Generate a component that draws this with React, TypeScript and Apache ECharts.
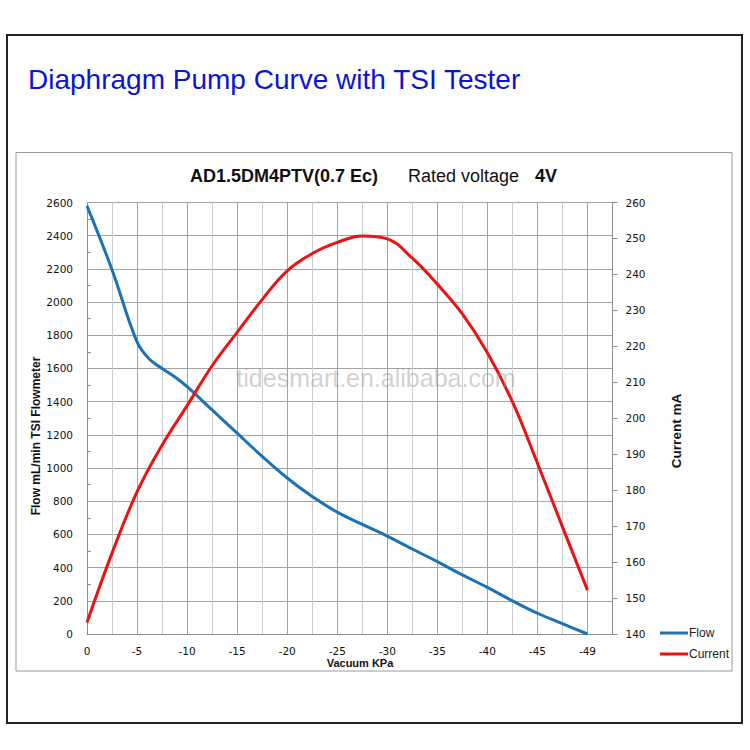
import React, { useEffect, useRef } from "react";
import * as echarts from "echarts";

const vacuumLabels = ["0", "-5", "-10", "-15", "-20", "-25", "-30", "-35", "-40", "-45", "-49"];
// x positions on the chart (one label every 5 units, a grid line every 2.5)
const flowX = [0, 2.5, 5, 6.25, 7.5, 8.75, 10, 12.5, 15, 17.5, 20, 22.5, 25, 27.5, 30, 32.5, 35, 37.5, 40, 42.5, 45, 47.5, 50];
const flowValues = [2580, 2195, 1760, 1655, 1600, 1550, 1490, 1350, 1210, 1070, 940, 828, 734, 660, 590, 512, 436, 356, 281, 200, 125, 62, 0];
const currentX = [0, 2.5, 5, 7.5, 10, 12.5, 15, 17.5, 20, 22.5, 25, 27.5, 30, 32.5, 35, 37.5, 40, 42.5, 45, 47.5, 50];
const currentValues = [143.2, 162.5, 179.5, 192.5, 203.5, 214.6, 223.9, 233, 241, 245.8, 248.9, 250.7, 249.9, 244.5, 237.3, 229, 218.2, 204.6, 187.5, 169.8, 152.2];

const titleText = "Diaphragm Pump Curve with TSI Tester";
const modelText = "AD1.5DM4PTV(0.7 Ec)";
const ratedText = "Rated voltage";
const voltText = "4V";

const SANS = "'Liberation Sans', Arial, sans-serif";
const VERD = "'DejaVu Sans', Verdana, sans-serif";

export default function App() {
  const ref = useRef<HTMLDivElement>(null);
  useEffect(() => {
    if (!ref.current) return;
    const chart = echarts.init(ref.current, null, { renderer: "svg" });
    const flowData = flowX.map((x, i) => [x, flowValues[i]]);
    const currentData = currentX.map((x, i) => [x, currentValues[i]]);
    chart.setOption({
      animation: false,
      backgroundColor: "#ffffff",
      grid: { left: 87, right: 137.5, top: 202.5, bottom: 116, containLabel: false },
      legend: {
        orient: "vertical",
        left: 655,
        top: 622,
        itemWidth: 28,
        itemHeight: 3,
        itemGap: 9,
        icon: "rect",
        textStyle: { fontFamily: SANS, fontSize: 12, color: "#222", padding: [0, 0, 0, -4] },
        data: ["Flow", "Current"],
      },
      xAxis: {
        type: "value",
        min: 0,
        max: 52.5,
        interval: 5,
        axisLine: { show: true, lineStyle: { color: "#8c8c8c", width: 1 } },
        axisTick: { show: false },
        minorTick: { show: false, splitNumber: 2 },
        splitLine: { show: true, lineStyle: { color: "#a3a3a3", width: 1 } },
        minorSplitLine: { show: true, lineStyle: { color: "#cdcdcd", width: 1 } },
        axisLabel: {
          margin: 11,
          fontFamily: VERD,
          fontSize: 10.5,
          color: "#111",
          formatter: (v: number) => {
            const i = v / 5;
            return Number.isInteger(i) && i < vacuumLabels.length ? vacuumLabels[i] : "";
          },
        },
      },
      yAxis: [
        {
          type: "value",
          min: 0,
          max: 2600,
          interval: 200,
          axisLine: { show: true, lineStyle: { color: "#8c8c8c" } },
          axisTick: { show: false, inside: true },
          minorTick: { show: true, splitNumber: 2, length: 4, lineStyle: { color: "#8c8c8c" } },
          splitLine: { show: true, lineStyle: { color: "#a3a3a3", width: 1 } },
          axisLabel: { margin: 14, fontFamily: VERD, fontSize: 10.5, color: "#111", formatter: (v: number) => String(v) },
        },
        {
          type: "value",
          min: 140,
          max: 260,
          interval: 10,
          position: "right",
          axisLine: { show: true, lineStyle: { color: "#8c8c8c" } },
          axisTick: { show: true, length: 5, lineStyle: { color: "#8c8c8c" } },
          splitLine: { show: false },
          axisLabel: { margin: 13, fontFamily: VERD, fontSize: 10.5, color: "#111", formatter: (v: number) => String(v) },
        },
      ],
      series: [
        {
          name: "Flow",
          type: "line",
          yAxisIndex: 0,
          data: flowData,
          smooth: 0.4,
          showSymbol: false,
          symbol: "none",
          itemStyle: { color: "#1b72b6" },
          lineStyle: { color: "#1b72b6", width: 3 },
          z: 3,
        },
        {
          name: "Current",
          type: "line",
          yAxisIndex: 1,
          data: currentData,
          smooth: 0.4,
          showSymbol: false,
          symbol: "none",
          itemStyle: { color: "#ee1111" },
          lineStyle: { color: "#ee1111", width: 3 },
          z: 3,
        },
      ],
      graphic: [
        {
          type: "rect",
          z: -10,
          shape: { x: 7, y: 35, width: 735, height: 688 },
          style: { fill: "none", stroke: "#222", lineWidth: 2 },
        },
        {
          type: "rect",
          z: -10,
          shape: { x: 16, y: 152.5, width: 716, height: 518.5 },
          style: { fill: "none", stroke: "#9a9a9a", lineWidth: 1 },
        },
        {
          type: "text",
          x: 28,
          y: 79,
          style: { text: titleText, fontFamily: SANS, fontSize: 28, fill: "#0a14d8", align: "left", verticalAlign: "middle" },
        },
        {
          type: "text",
          x: 190,
          y: 176,
          style: { text: modelText, fontFamily: SANS, fontSize: 18, fontWeight: "bold", fill: "#111", align: "left", verticalAlign: "middle" },
        },
        {
          type: "text",
          x: 408,
          y: 176,
          style: { text: ratedText, fontFamily: SANS, fontSize: 18, fill: "#111", align: "left", verticalAlign: "middle" },
        },
        {
          type: "text",
          x: 535,
          y: 176,
          style: { text: voltText, fontFamily: SANS, fontSize: 18, fontWeight: "bold", fill: "#111", align: "left", verticalAlign: "middle" },
        },
        {
          type: "text",
          x: 36,
          y: 436,
          rotation: Math.PI / 2,
          style: { text: "Flow mL/min TSI Flowmeter", fontFamily: SANS, fontSize: 12, fontWeight: "bold", fill: "#111", align: "center", verticalAlign: "middle" },
        },
        {
          type: "text",
          x: 676,
          y: 431,
          rotation: Math.PI / 2,
          style: { text: "Current mA", fontFamily: SANS, fontSize: 13.5, fontWeight: "bold", fill: "#111", align: "center", verticalAlign: "middle" },
        },
        {
          type: "text",
          x: 360,
          y: 663,
          style: { text: "Vacuum KPa", fontFamily: SANS, fontSize: 11, fontWeight: "bold", fill: "#111", align: "center", verticalAlign: "middle" },
        },
        {
          type: "text",
          x: 376,
          y: 378,
          z: 10,
          style: { text: "tidesmart.en.alibaba.com", fontFamily: SANS, fontSize: 25, fill: "rgba(150,150,150,0.45)", align: "center", verticalAlign: "middle" },
        },
      ],
    });
    return () => chart.dispose();
  }, []);
  return (
    <div
      ref={ref}
      style={{ position: "fixed", left: 0, top: 0, width: 750, height: 750, background: "#fff" }}
    />
  );
}
